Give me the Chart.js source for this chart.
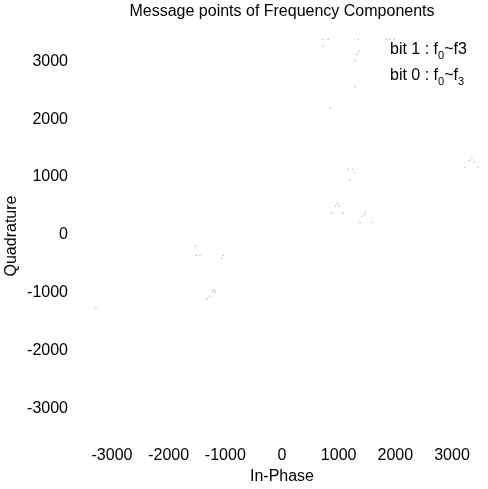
<!DOCTYPE html>
<html>
<head>
<meta charset="utf-8">
<script src="https://cdn.jsdelivr.net/npm/chart.js@4/dist/chart.umd.min.js"></script>
<style>
  html, body { margin: 0; padding: 0; background: #fff; }
  #wrap { width: 488px; height: 489px; }
</style>
</head>
<body>
<div id="wrap"><canvas id="myChart" width="488" height="489"></canvas></div>
<script>
// message points (In-Phase, Quadrature)
const inPhase = [
    1160, 1241, 1288, 1200,
    976, 941, 1006, 870, 1082,
    1470, 1447, 1417, 1377, 1594,
    3353, 3306, 3394, 3235, 3459,
    -1530, -1512, -1447, -1036, -1064,
    -1212, -1195, -1230, -1177, -1283, -1318,
    -3283,
    1354, 1318, 1288, 1288, 847, 718,
    718, 817, 1347, 1835, 1894, 1982
]
const quadrature = [
    1134, 1134, 1075, 948,
    539, 494, 494, 373, 373,
    391, 356, 321, 218, 218,
    1329, 1289, 1260, 1173, 1173,
    -192, -359, -359, -359, -404,
    -947, -964, -987, -987, -1056, -1108,
    -1268,
    3178, 3121, 3005, 2561, 2188, 3264,
    3380, 3380, 3380, 3380, 3380, 3380
]
const xTicks = [-3000, -2000, -1000, 0, 1000, 2000, 3000]
const yTicks = [-3000, -2000, -1000, 0, 1000, 2000, 3000]
const legendLines = [
    [['bit 1 : f', false], ['0', true], ['~f3', false]],
    [['bit 0 : f', false], ['0', true], ['~f', false], ['3', true]]
]
const chartTitle = 'Message points of Frequency Components'

const FONT = '"Liberation Sans", Arial, Helvetica, sans-serif'
const points = inPhase.map((x, i) => ({x: x, y: quadrature[i]}))

// faint dotted frame, title and the text-only legend
const decorations = {
    id: 'decorations',
    beforeDatasetsDraw(chart) {
        const {ctx, chartArea: a} = chart
        ctx.save()
        ctx.strokeStyle = '#dadada'
        ctx.lineWidth = 1
        ctx.setLineDash([1, 11])
        ctx.strokeRect(a.left + 0.5, a.top + 0.5, a.right - a.left - 1, a.bottom - a.top - 1)
        ctx.restore()
    },
    afterDraw(chart) {
        const {ctx, chartArea: a} = chart
        ctx.save()
        ctx.fillStyle = '#000'
        ctx.textBaseline = 'middle'
        ctx.textAlign = 'center'
        ctx.font = '16px ' + FONT
        ctx.fillText(chartTitle, (a.left + a.right) / 2, 12)

        ctx.textAlign = 'left'
        ctx.textBaseline = 'alphabetic'
        const baselines = [54, 80]
        legendLines.forEach((parts, i) => {
            let x = 390
            parts.forEach(([txt, sub]) => {
                ctx.font = (sub ? '11px ' : '16px ') + FONT
                ctx.fillText(txt, x, baselines[i] + (sub ? 5 : 0))
                x += ctx.measureText(txt).width
            })
        })
        ctx.restore()
    }
}

const ctx = document.getElementById('myChart').getContext('2d')
new Chart(ctx, {
    type: 'scatter',
    data: {
        datasets: [{
            label: 'message points',
            data: points,
            backgroundColor: '#b4b4b4',
            borderWidth: 0,
            pointRadius: 0.75,
            pointHoverRadius: 0.75
        }]
    },
    options: {
        responsive: false,
        animation: false,
        events: [],
        layout: { padding: { top: 30, right: 2, left: 0, bottom: 0 } },
        plugins: {
            legend: { display: false },
            title: { display: false },
            tooltip: { enabled: false }
        },
        scales: {
            x: {
                type: 'linear',
                min: -3600,
                max: 3600,
                afterBuildTicks: s => { s.ticks = xTicks.map(v => ({value: v})) },
                afterFit: s => { s.height = 47 },
                grid: { display: false, drawTicks: false },
                border: { display: false },
                ticks: { color: '#000', padding: 4.4, maxRotation: 0, autoSkip: false,
                         callback: v => String(v),
                         font: { family: FONT, size: 16 } },
                title: { display: true, text: 'In-Phase', color: '#000',
                         padding: { top: 0, bottom: 2.4 }, font: { family: FONT, size: 16 } }
            },
            y: {
                type: 'linear',
                min: -3580,
                max: 3540,
                afterBuildTicks: s => { s.ticks = yTicks.map(v => ({value: v})) },
                afterFit: s => { s.width = 78 },
                grid: { display: false, drawTicks: false },
                border: { display: false },
                ticks: { color: '#000', padding: 10, autoSkip: false,
                         callback: v => String(v),
                         font: { family: FONT, size: 16 } },
                title: { display: true, text: 'Quadrature', color: '#000',
                         padding: { top: 2.4, bottom: 0 }, font: { family: FONT, size: 16 } }
            }
        }
    },
    plugins: [decorations]
})
</script>
</body>
</html>
